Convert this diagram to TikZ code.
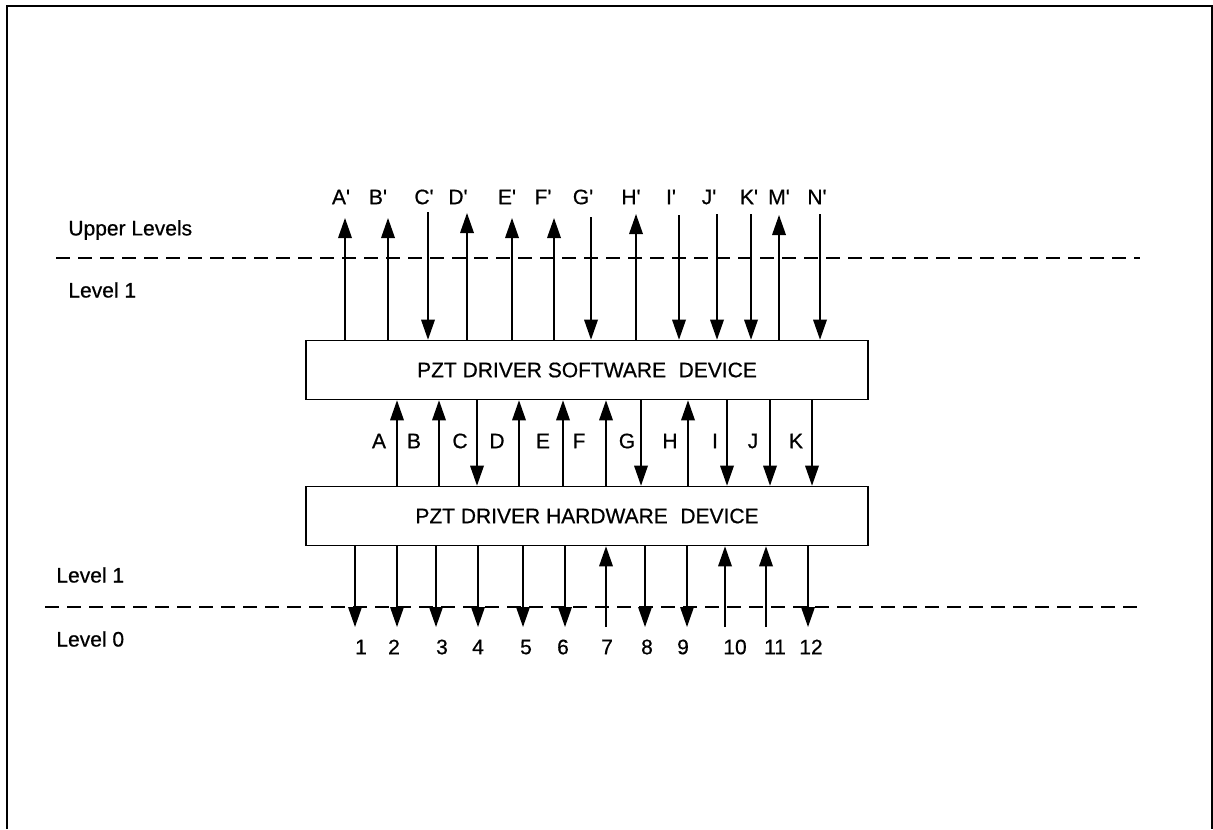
\documentclass[tikz,border=0pt]{standalone}
\usepackage{fontspec}
\setmainfont{Liberation Sans}[FakeBold=0.6]
\usetikzlibrary{arrows.meta}
\begin{document}
\begin{tikzpicture}[x=0.5pt,y=-0.5pt,
  frame/.style={line width=1pt},
  box/.style={draw,line width=0.8pt,minimum width=281pt,minimum height=29.5pt,inner sep=0pt,font=\fontsize{10.5}{12}\selectfont},
  arr/.style={line width=0.75pt,-{Triangle[width=6.8pt,length=10pt]}},
  lab/.style={inner sep=0pt,font=\fontsize{10.5}{12}\selectfont},
  side/.style={inner sep=0pt,anchor=west,font=\fontsize{10.5}{12}\selectfont},
  levelline/.style={line width=0.75pt,dash pattern=on 7pt off 4pt}]
\useasboundingbox (0,0) rectangle (1213,829);
\draw[frame] (7,829) -- (7,6) -- (1212,6) -- (1212,829);
% level lines
\coordinate (u1) at (56,258);
\coordinate (u2) at (1140,258);
\coordinate (l1) at (45,607);
\coordinate (l2) at (1140,607);
\draw[levelline] (u1) -- (u2);
\draw[levelline] (l1) -- (l2);
% side labels
\node[side] (upl) at (68,230) {Upper Levels};
\node[side] (lv1a) at (68,290) {Level 1};
\node[side] (lv1b) at (56,575) {Level 1};
\node[side] (lv0) at (56,639) {Level 0};
% boxes
\node[box] (sw) at (587,370) {PZT DRIVER SOFTWARE\hspace{0.6em}DEVICE};
\node[box] (hw) at (587,516) {PZT DRIVER HARDWARE\hspace{0.6em}DEVICE};
% top arrows
\foreach \n/\x/\y in {Ap/345/218, Bp/388/218, Dp/467/213, Ep/512/218, Fp/554/218, Hp/636/214, Mp/779/215}{
  \coordinate (t\n) at (\x,\y);
  \draw[arr] (t\n |- sw.north) -- (t\n);
}
\foreach \n/\x/\y in {Cp/428/212, Gp/591/217, Ip/679/215, Jp/717/214, Kp/751/214, Np/820/214}{
  \coordinate (t\n) at (\x,\y);
  \draw[arr] (t\n) -- (t\n |- sw.north);
}
\foreach \n/\x/\t in {Ap/341/A, Bp/378/B, Cp/424/C, Dp/458/D, Ep/507/E, Fp/543/F, Gp/583/G, Hp/631/H, Ip/671/I, Jp/709/J, Kp/749/K, Mp/779/M, Np/817/N}{
  \node[lab] (lt\n) at (\x,197) {\t\textquotesingle};
}
% middle arrows
\foreach \n/\x in {A/397, B/439, D/519, E/563, F/606, H/688}{
  \coordinate (m\n) at (\x,441);
  \draw[arr] (m\n |- hw.north) -- (m\n |- sw.south);
}
\foreach \n/\x in {C/477, G/641, I/727, J/770, K/812}{
  \coordinate (m\n) at (\x,441);
  \draw[arr] (m\n |- sw.south) -- (m\n |- hw.north);
}
\foreach \n/\x in {A/379, B/414, C/460, D/497, E/543, F/579, G/627, H/670, I/715, J/753, K/796}{
  \node[lab] (lm\n) at (\x,441) {\n};
}
% bottom arrows
\foreach \n/\x in {1/355, 2/397, 3/436, 4/478, 5/523, 6/565, 8/645, 9/687, 12/808}{
  \coordinate (b\n) at (\x,627);
  \draw[arr] (b\n |- hw.south) -- (b\n);
}
\foreach \n/\x in {7/606, 10/725, 11/766}{
  \coordinate (b\n) at (\x,627);
  \draw[arr] (b\n) -- (b\n |- hw.south);
}
\foreach \n/\x in {1/361, 2/394, 3/442, 4/478, 5/526, 6/563, 7/607, 8/647, 9/683, 10/735, 11/775, 12/811}{
  \node[lab] (lb\n) at (\x,647) {\n};
}
\end{tikzpicture}
\end{document}
